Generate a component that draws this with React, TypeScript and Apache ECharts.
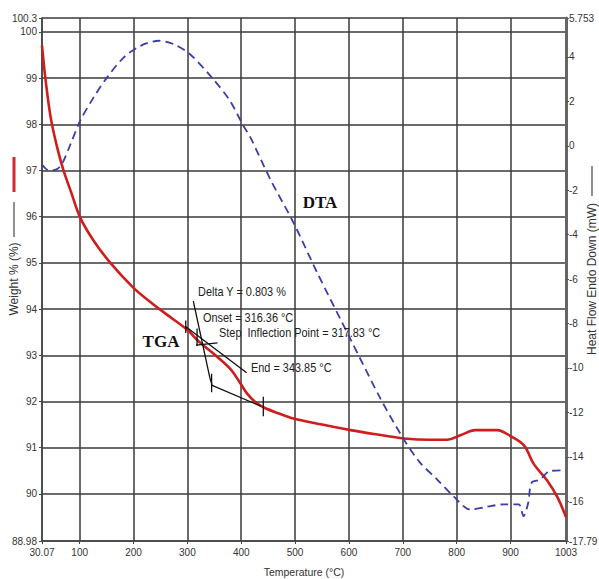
import React, { useEffect, useRef } from "react";
import * as echarts from "echarts";

const xTickValues = [30.07, 100, 200, 300, 400, 500, 600, 700, 800, 900, 1003];
const weightTickValues = [88.98, 90, 91, 92, 93, 94, 95, 96, 97, 98, 99, 100, 100.3];
const heatTickValues = [-17.79, -16, -14, -12, -10, -8, -6, -4, -2, 0, 2, 4, 5.753];

const tgaTemp = [30.07, 36, 46, 58, 70, 83, 101, 126, 157, 200, 237, 262, 300, 321, 350, 380, 398, 411, 425, 442, 470, 497, 550, 603, 650, 702, 751, 782, 807, 835, 875, 900, 925, 943, 968, 987, 1003];
const tgaWeight = [99.7, 99.03, 98.16, 97.51, 97.0, 96.57, 95.98, 95.48, 95.0, 94.46, 94.1, 93.88, 93.55, 93.3, 93.02, 92.7, 92.4, 92.17, 92.0, 91.87, 91.74, 91.63, 91.5, 91.38, 91.29, 91.2, 91.17, 91.17, 91.27, 91.38, 91.38, 91.25, 91.05, 90.65, 90.29, 89.93, 89.5];

const dtaTemp = [30.07, 38, 46, 58, 67, 83, 101, 126, 151, 182, 213, 247, 275, 305, 348, 379, 404, 417, 454, 497, 541, 603, 659, 702, 732, 763, 794, 825, 856, 887, 915, 924, 933, 939, 955, 973, 1003];
const dtaHeat = [-0.85, -1.05, -1.12, -1.05, -0.83, 0.07, 1.13, 2.18, 3.08, 3.98, 4.5, 4.73, 4.57, 4.12, 3.0, 2.03, 0.9, 0.38, -1.51, -3.46, -5.71, -8.71, -11.4, -13.22, -14.26, -15.0, -15.77, -16.37, -16.25, -16.14, -16.14, -16.67, -16.06, -15.17, -15.02, -14.64, -14.61];

// analysis construction lines (temperature, weight)
const annotationSegments = [
  [[311, 94.17], [342, 92.5], [346, 92.35], [436, 91.9]],
  [[296, 93.63], [410, 92.62]],
  [[316, 93.22], [356, 93.27]],
  [[345, 92.6], [345, 92.2]],
  [[441, 92.1], [441, 91.68]],
  [[297, 93.75], [297, 93.48]],
  [[318, 93.58], [318, 93.2]],
];

const annotationTexts = [
  { text: "Delta Y = 0.803 %", x: 198, y: 292 },
  { text: "Onset = 316.36 °C", x: 203, y: 318 },
  { text: "Step  Inflection Point = 317.83 °C", x: 219, y: 333 },
  { text: "End = 343.85 °C", x: 251, y: 368 },
];

const SANS = '"Liberation Sans", Arial, sans-serif';
const SERIF = '"Liberation Serif", "Times New Roman", serif';

export default function App() {
  const ref = useRef<HTMLDivElement>(null);
  useEffect(() => {
    if (!ref.current) return;
    const chart = echarts.init(ref.current, null, { renderer: "svg" });
    const gridColor = "#3a3a3a";
    const labelStyle = { color: "#333", fontSize: 10, fontFamily: SANS };
    const fmt = (v: number) => String(v);

    const series: any[] = [
      {
        name: "TGA",
        type: "line",
        xAxisIndex: 0,
        yAxisIndex: 0,
        data: tgaTemp.map((t, i) => [t, tgaWeight[i]]),
        symbol: "none",
        smooth: 0.35,
        lineStyle: { color: "#d01c1c", width: 2.6 },
        z: 3,
      },
      {
        name: "DTA",
        type: "line",
        xAxisIndex: 0,
        yAxisIndex: 1,
        data: dtaTemp.map((t, i) => [t, dtaHeat[i]]),
        symbol: "none",
        smooth: 0.3,
        lineStyle: { color: "#3a3ea6", width: 1.8, type: [8, 5] },
        z: 3,
      },
    ];
    annotationSegments.forEach((seg) => {
      series.push({
        type: "line",
        xAxisIndex: 0,
        yAxisIndex: 0,
        data: seg,
        symbol: "none",
        lineStyle: { color: "#111", width: 1.3 },
        z: 4,
        silent: true,
      });
    });

    chart.setOption({
      animation: false,
      backgroundColor: "#ffffff",
      grid: { left: 42, right: 33, top: 18, bottom: 38, containLabel: false, outerBoundsMode: "none" },
      xAxis: {
        type: "value",
        min: 30.07,
        max: 1003,
        axisLine: { show: true, onZero: false, lineStyle: { color: "#444", width: 1.5 } },
        axisTick: { show: true, inside: false, length: 3, customValues: xTickValues, lineStyle: { color: "#444" } },
        axisLabel: { customValues: xTickValues, formatter: fmt, margin: 6, ...labelStyle },
        splitLine: { show: true, lineStyle: { color: gridColor, width: 1.5 } },
      },
      yAxis: [
        {
          type: "value",
          min: 88.98,
          max: 100.3,
          position: "left",
          axisLine: { show: true, onZero: false, lineStyle: { color: "#444", width: 1.5 } },
          axisTick: { show: true, inside: false, length: 3, customValues: weightTickValues, lineStyle: { color: "#444" } },
          axisLabel: { customValues: weightTickValues, formatter: fmt, margin: 5, ...labelStyle },
          splitLine: { show: true, lineStyle: { color: gridColor, width: 1.5 } },
        },
        {
          type: "value",
          min: -17.79,
          max: 5.753,
          position: "right",
          axisLine: { show: true, onZero: false, lineStyle: { color: "#666", width: 3 } },
          axisTick: { show: true, inside: false, length: 3, customValues: heatTickValues, lineStyle: { color: "#555" } },
          axisLabel: { customValues: heatTickValues, formatter: fmt, margin: 3, ...labelStyle },
          splitLine: { show: false },
        },
      ],
      graphic: [
        { type: "line", shape: { x1: 14, y1: 157, x2: 14, y2: 192 }, style: { stroke: "#d42a2a", lineWidth: 3 } },
        { type: "line", shape: { x1: 14, y1: 202, x2: 14, y2: 237 }, style: { stroke: "#555", lineWidth: 1.3 } },
        {
          type: "text",
          x: 14,
          y: 279,
          rotation: Math.PI / 2,
          style: { text: "Weight % (%)", fontSize: 12, fontFamily: SANS, fill: "#333", align: "center", verticalAlign: "middle" },
          z: 10,
        },
        { type: "line", shape: { x1: 592, y1: 166, x2: 592, y2: 196 }, style: { stroke: "#555", lineWidth: 1.3 } },
        {
          type: "text",
          x: 592,
          y: 279,
          rotation: Math.PI / 2,
          style: { text: "Heat Flow Endo Down (mW)", fontSize: 12, fontFamily: SANS, fill: "#333", align: "center", verticalAlign: "middle" },
          z: 10,
        },
        {
          type: "text",
          x: 304,
          y: 572,
          style: { text: "Temperature (°C)", fontSize: 10.5, fontFamily: SANS, fill: "#333", align: "center", verticalAlign: "middle" },
          z: 10,
        },
        {
          type: "text",
          x: 320,
          y: 202,
          style: { text: "DTA", fontSize: 17, fontWeight: "bold", fontFamily: SERIF, fill: "#111", align: "center", verticalAlign: "middle" },
          z: 10,
        },
        {
          type: "text",
          x: 161,
          y: 341,
          style: { text: "TGA", fontSize: 17, fontWeight: "bold", fontFamily: SERIF, fill: "#111", align: "center", verticalAlign: "middle" },
          z: 10,
        },
        ...annotationTexts.map((a) => ({
          type: "text",
          x: a.x,
          y: a.y,
          scaleX: 0.84,
          style: { text: a.text, fontSize: 13, fontFamily: SANS, fill: "#222", align: "left", verticalAlign: "middle" },
          z: 10,
        })),
      ],
      series,
    });
    return () => chart.dispose();
  }, []);
  return <div ref={ref} style={{ width: 599, height: 579, position: "absolute", left: 0, top: 0 }} />;
}
